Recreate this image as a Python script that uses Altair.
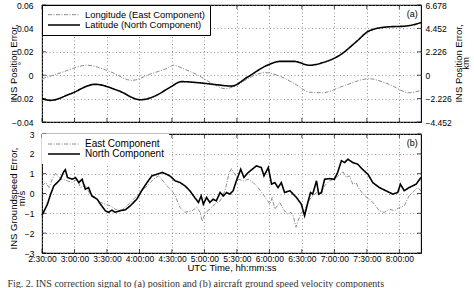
import altair as alt
import pandas as pd

FONT = "Liberation Sans, Arial, sans-serif"

# ---------------- data (time = minutes after midnight UTC) ----------------
lon_t = [150, 167, 192, 213, 233, 250, 268, 271, 282, 294, 307, 319, 330, 342, 356, 370, 383, 397, 409, 429, 452, 471, 489, 500]
lon_v = [-0.003, 0.002, 0.0085, 0.003, -0.0044, 0.001, 0.007, 0.0085, 0.005, 0.0, -0.007, -0.0115, -0.0086, -0.002, 0.0022,
         -0.001, -0.0071, -0.0145, -0.015, -0.009, -0.003, -0.008, -0.015, -0.013]

lat_t = [150, 158, 176, 199, 220, 241, 255, 268, 279, 294, 310, 325, 340, 358, 370, 383, 397, 409, 425, 440, 452, 468, 486, 500]
lat_v = [-0.020, -0.0215, -0.016, -0.0078, -0.013, -0.021, -0.0175, -0.0105, -0.0055, -0.0064, -0.008, -0.0093, -0.0015,
         0.0085, 0.0118, 0.0118, 0.0085, 0.0107, 0.0171, 0.0284, 0.0378, 0.0412, 0.042, 0.0449]

north_t = [150, 155, 158, 161, 164, 167, 170, 171.5, 173.5, 178, 181, 184, 187, 190, 193, 196, 201, 204, 208.5, 211.5,
           214.5, 217.5, 222, 227, 231.5, 237.5, 242, 247, 251.5, 256, 261, 265, 268, 273, 277.5, 282, 286.5, 291,
           294.5, 297, 299, 302, 305, 308, 311, 314.5, 317.5, 320.5, 323.5, 326.5, 329.5, 333.5, 336.5, 340.5, 345,
           348, 352.5, 355, 359, 362, 365, 368, 371, 374, 379, 383.5, 385, 389.5, 392.5, 395.5, 398, 400, 403.5,
           405.5, 408, 411, 415.5, 420, 423, 426.5, 429.5, 432.5, 437, 441.5, 446, 451, 455.5, 461.5, 467.5, 474,
           478.5, 481, 484.5, 489, 495.5, 500]
north_v = [-1.1, -0.54, -0.03, 0.39, 0.55, 0.72, 1.09, 1.2, 0.81, 0.72, 0.8, 0.55, 0.72, 0.22, 0.3, -0.12, -0.29, -0.54,
           -0.87, -0.95, -0.84, -0.95, -0.87, -0.82, -0.62, -0.29, 0.14, 0.55, 0.89, 0.97, 1.06, 0.97, 0.89, 0.64,
           0.55, 0.39, 0.14, -0.2, -0.45, -0.12, -0.54, -0.2, -0.45, -0.29, -0.37, 0.05, -0.12, 0.05, -0.03, 0.14,
           0.64, 1.22, 0.81, 1.06, 1.26, 1.39, 1.31, 0.89, 1.31, 0.47, 0.55, 0.3, 0.55, 0.05, 0.14, -0.12, -0.2,
           -0.54, -1.12, -0.45, 0.05, -0.03, 0.64, -0.03, 0.05, 0.72, 0.75, 0.72, 1.06, 1.65, 1.56, 1.73, 1.56,
           1.48, 1.22, 0.97, 0.55, 0.3, 0.14, -0.03, 0.05, 0.47, 0.14, 0.3, 0.47, 0.81]

east_t = [150, 153.5, 156.5, 159.5, 162.5, 165.5, 168.5, 173.5, 178, 182.5, 185.5, 190, 194.5, 199.5, 204, 208.5, 213,
          217.5, 222.5, 227, 231.5, 236, 241, 245.5, 250, 253, 257.5, 260.5, 263.5, 267, 270, 273, 277.5, 282, 288.5,
          293, 296, 298, 301, 305, 309.5, 314.5, 319, 322.5, 325, 328, 331, 336, 340.5, 345, 349.5, 354, 357.5,
          360.5, 362.5, 365, 369.5, 374, 377, 380, 382, 384.5, 386.5, 389.5, 392.5, 395.5, 398.5, 403.5, 408, 411,
          415.5, 420, 425, 428, 431, 434, 437, 440, 443, 448, 452.5, 457, 461.5, 466, 471, 475.5, 480, 484.5, 489,
          494, 497, 500]
east_v = [0.39, 0.55, 0.3, 0.72, 1.02, 0.81, 0.72, 0.64, 0.55, 0.72, 0.3, 0.39, -0.03, -0.2, -0.45, -0.54, -0.62,
          -0.79, -0.87, -0.71, -0.45, -0.2, 0.05, 0.3, 0.55, 0.72, 0.89, 0.72, 0.5, 0.3, 0.14, -0.12, -0.71, -0.95,
          -0.87, -0.71, -0.95, -1.41, -0.95, -0.79, -0.54, -0.37, 0.14, 0.97, 1.26, 0.97, 0.72, 0.64, 0.72, 0.55,
          0.3, -0.03, -0.29, -0.54, -0.2, -0.79, -0.45, -0.87, -1.04, -0.95, -1.12, -1.7, -1.37, -0.95, -0.87,
          -0.45, -0.2, 0.05, -0.03, 0.39, 0.64, 0.72, 0.97, 1.09, 0.81, 0.89, 0.47, 0.55, 0.22, -0.12, -0.29,
          -0.54, -0.87, -0.95, -0.79, -0.87, -0.71, -0.62, -0.12, 0.14, 0.3, 0.14]

top_series = ["Longitude (East Component)", "Latitude (North Component)"]
bot_series = ["East Component", "North Component"]

x_ticks = [150, 180, 210, 240, 270, 300, 330, 360, 390, 420, 450, 480]
pos_ticks = [-0.04, -0.02, 0, 0.02, 0.04, 0.06]
km_ticks = [-4.452, -2.226, 0, 2.226, 4.452, 6.678]
gs_ticks = [-3, -2, -1, 0, 1, 2, 3]
DEG_TO_KM = 111.3

caption = ("Fig. 2. INS correction signal to (a) position and (b) aircraft ground speed "
           "velocity components")

# ---------------- tables ----------------
top_df = pd.DataFrame({
    "t": lon_t + lat_t,
    "v": lon_v + lat_v,
    "series": [top_series[0]] * len(lon_t) + [top_series[1]] * len(lat_t),
})
bot_df = pd.DataFrame({
    "t": east_t + north_t,
    "v": east_v + north_v,
    "series": [bot_series[0]] * len(east_t) + [bot_series[1]] * len(north_t),
})

XDOM = [150, 500]
W = 379
H_TOP = 117
H_BOT = 119
GRID = dict(grid=True, gridColor="#7a7a7a", gridDash=[1, 2.5], gridWidth=0.8)
LBL = 8.5
TTL = 9.5
TL = 4  # inward tick length
DASH = [[4, 1.5, 1, 1.5], [1, 0]]
COLS = ["#8c8c8c", "black"]
WIDTHS = [1, 1.6]
# legend sample line: 32 px long, starting at the symbol's left edge (scaled by sqrt(64)/2 = 4)
LEG_LINE = "M-1,0H7"


def xenc(show_labels):
    ax = alt.Axis(values=x_ticks, labels=show_labels, ticks=False, tickSize=0, domain=False,
                  title="UTC Time, hh:mm:ss" if show_labels else None, labelOverlap=False, labelFlush=False,
                  labelExpr="floor(datum.value/60) + ':' + pad(datum.value % 60, 2, '0', 'left') + ':00'",
                  labelPadding=1, titlePadding=0, labelFontSize=LBL, titleFontSize=TTL, **GRID)
    return alt.X("t:Q", scale=alt.Scale(domain=XDOM, nice=False, zero=False), axis=ax)


def edge_layers(ydom, yticks):
    """Short inward tick marks on all four frame edges (MATLAB style)."""
    top_e = pd.DataFrame({"t": x_ticks, "v": [ydom[1]] * len(x_ticks)})
    bot_e = pd.DataFrame({"t": x_ticks, "v": [ydom[0]] * len(x_ticks)})
    lft_e = pd.DataFrame({"t": [XDOM[0]] * len(yticks), "v": yticks})
    rgt_e = pd.DataFrame({"t": [XDOM[1]] * len(yticks), "v": yticks})
    kw = dict(size=TL, thickness=1, color="black")
    return [
        alt.Chart(top_e).mark_tick(orient="vertical", yOffset=TL / 2, **kw),
        alt.Chart(bot_e).mark_tick(orient="vertical", yOffset=-TL / 2, **kw),
        alt.Chart(lft_e).mark_tick(orient="horizontal", xOffset=TL / 2, **kw),
        alt.Chart(rgt_e).mark_tick(orient="horizontal", xOffset=-TL / 2, **kw),
    ]


def legend_for(fs, stroke, row_pad):
    kw = dict(title=None, orient="top-left", offset=0, symbolType=LEG_LINE, symbolSize=64,
              labelFont=FONT, labelFontSize=fs, padding=5, rowPadding=row_pad,
              fillColor="white", labelOffset=28, labelColor="black")
    if stroke:
        kw["strokeColor"] = "black"
    return alt.Legend(**kw)


def series_channels(domain, leg):
    return dict(
        color=alt.Color("series:N", scale=alt.Scale(domain=domain, range=COLS), legend=leg),
        strokeDash=alt.StrokeDash("series:N", scale=alt.Scale(domain=domain, range=DASH), legend=leg),
        strokeWidth=alt.StrokeWidth("series:N", scale=alt.Scale(domain=domain, range=WIDTHS), legend=None),
    )


# ---------------- panel (a) ----------------
TOP_DOM = [-0.04, 0.06]
top_x = xenc(False)
top_y = alt.Y("v:Q", scale=alt.Scale(domain=TOP_DOM, nice=False, zero=False),
              axis=alt.Axis(values=pos_ticks, orient="left", ticks=False, tickSize=0, domain=False,
                            labelExpr="datum.value == 0 ? '0' : format(datum.value, '.2f')",
                            labelPadding=9, labelFontSize=LBL, labelFlush=False,
                            title=["INS Position Error,", "°"], titleFontSize=TTL, titleLineHeight=8.5,
                            titleAngle=270, titleBaseline="alphabetic", titleAlign="center",
                            titleX=-26, titleY=58, **GRID))
top_lines = alt.Chart(top_df).mark_line(interpolate="monotone").encode(
    **series_channels(top_series, legend_for(9.4, True, 0)))
a_lbl = alt.Chart(pd.DataFrame({"t": [492], "v": [0.052], "s": ["(a)"]})).mark_text(
    font=FONT, fontSize=9, color="black").encode(text="s:N")
top_inner = alt.layer(top_lines, *edge_layers(TOP_DOM, pos_ticks), a_lbl).encode(x=top_x, y=top_y)

km_layer = alt.Chart(pd.DataFrame({"t": lon_t, "v": lon_v})).transform_calculate(
    km=f"datum.v * {DEG_TO_KM}"
).mark_line(opacity=0).encode(
    x=top_x,
    y=alt.Y("km:Q", scale=alt.Scale(domain=[km_ticks[0], km_ticks[-1]], nice=False, zero=False),
            axis=alt.Axis(orient="right", values=km_ticks, grid=False, ticks=False, tickSize=0, domain=False,
                          labelExpr="datum.value == 0 ? '0' : format(datum.value, '.3f')",
                          labelPadding=4, labelFontSize=LBL, labelFlush=False,
                          title=["INS Position Error,", "km"], titleFontSize=TTL, titleLineHeight=7.5,
                          titleAngle=270, titleBaseline="alphabetic", titleAlign="center",
                          titleX=40, titleY=58)),
)

top = alt.layer(top_inner, km_layer).resolve_scale(y="independent").properties(width=W, height=H_TOP)

# ---------------- panel (b) ----------------
BOT_DOM = [-3, 3]
bot_x = xenc(True)
bot_y = alt.Y("v:Q", scale=alt.Scale(domain=BOT_DOM, nice=False, zero=False),
              axis=alt.Axis(values=gs_ticks, orient="left", ticks=False, tickSize=0, domain=False, format="d",
                            labelPadding=8, labelFontSize=LBL, labelFlush=False,
                            title=["INS Groundspeed Error,", "m/s"], titleFontSize=TTL, titleLineHeight=8,
                            titleAngle=270, titleBaseline="alphabetic", titleAlign="center",
                            titleX=-26, titleY=64, **GRID))
bot_lines = alt.Chart(bot_df).mark_line().encode(
    **series_channels(bot_series, legend_for(10, False, -1)))
b_lbl = alt.Chart(pd.DataFrame({"t": [492], "v": [2.55], "s": ["(b)"]})).mark_text(
    font=FONT, fontSize=9, color="black").encode(text="s:N")
bottom = alt.layer(bot_lines, *edge_layers(BOT_DOM, gs_ticks), b_lbl).encode(x=bot_x, y=bot_y).properties(
    width=W, height=H_BOT)

chart = alt.vconcat(top, bottom, spacing=1).resolve_scale(
    color="independent", strokeDash="independent", strokeWidth="independent"
).resolve_legend(color="independent", strokeDash="independent").properties(
    padding={"left": 7, "top": 0, "right": 0, "bottom": 0},
    background="white",
    title=alt.TitleParams(caption, orient="bottom", anchor="start", font="Liberation Serif", fontSize=10,
                          fontWeight="normal", color="#333333", offset=6),
).configure_view(stroke="black", strokeWidth=1.1).configure_axis(
    labelFont=FONT, titleFont=FONT, titleFontWeight="normal", labelColor="black", titleColor="black"
)

chart.save("out.html", embed_options={"renderer": "svg", "actions": False})
